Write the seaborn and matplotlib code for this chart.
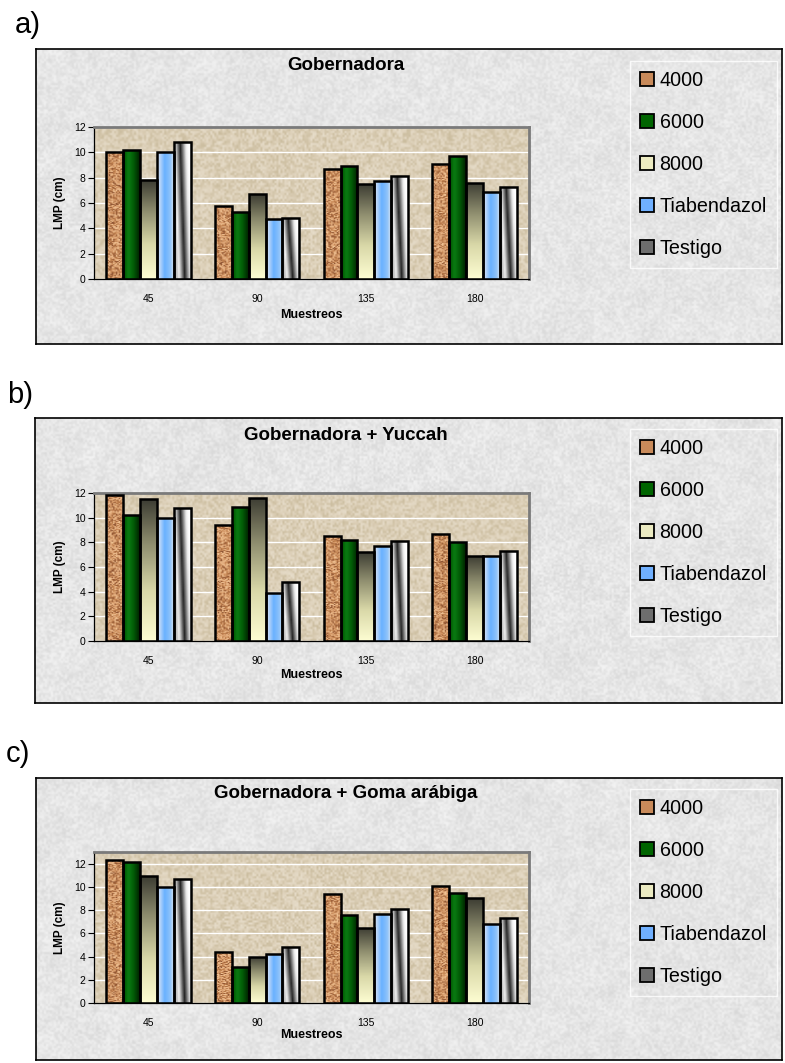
import numpy as np
import pandas as pd
import matplotlib
matplotlib.use("Agg")
import matplotlib.pyplot as plt
import seaborn as sns
from matplotlib.colors import LinearSegmentedColormap
from matplotlib.patches import Patch

# ---------------- data ----------------
muestreos = ['45', '90', '135', '180']
tratamientos = ['4000', '6000', '8000', 'Tiabendazol', 'Testigo']

a_4000 = [10.0, 5.8, 8.7, 9.1]
a_6000 = [10.2, 5.3, 8.9, 9.7]
a_8000 = [7.8, 6.7, 7.5, 7.6]
a_tiab = [10.0, 4.7, 7.7, 6.9]
a_testigo = [10.8, 4.8, 8.1, 7.3]

b_4000 = [11.8, 9.4, 8.5, 8.7]
b_6000 = [10.2, 10.9, 8.2, 8.0]
b_8000 = [11.5, 11.6, 7.2, 6.9]
b_tiab = [10.0, 3.9, 7.7, 6.9]
b_testigo = [10.8, 4.8, 8.1, 7.3]

c_4000 = [12.3, 4.4, 9.4, 10.1]
c_6000 = [12.1, 3.1, 7.6, 9.5]
c_8000 = [10.9, 4.0, 6.5, 9.0]
c_tiab = [10.0, 4.2, 7.7, 6.8]
c_testigo = [10.7, 4.8, 8.1, 7.3]

titles = ['Gobernadora', 'Gobernadora + Yuccah', 'Gobernadora + Goma arábiga']
panel_labels = ['a)', 'b)', 'c)']
y_ticks = [0, 2, 4, 6, 8, 10, 12]

# ---------------- style ----------------
sns.set_style('white')
plt.rcParams['font.family'] = ['Liberation Sans', 'DejaVu Sans']
plt.rcParams['text.color'] = 'black'
plt.rcParams['axes.labelcolor'] = 'black'
plt.rcParams['xtick.color'] = 'black'
plt.rcParams['ytick.color'] = 'black'

W, H = 785, 1063
fig = plt.figure(figsize=(W / 100, H / 100), dpi=100)
fig.patch.set_facecolor('white')


def fx(px):
    return px / W


def fy(py):
    return 1 - py / H


def rect(l, t, r, b):
    return [l / W, 1 - b / H, (r - l) / W, (b - t) / H]


rng = np.random.default_rng(7)

cm_cork = LinearSegmentedColormap.from_list('cork', ['#8a5030', '#bf7f4c', '#dfa677', '#f0c495'])
cm_green = LinearSegmentedColormap.from_list('grn', [(0, '#005200'), (0.3, '#0a7d12'), (0.65, '#025a06'), (1, '#002600')])
cm_olive = LinearSegmentedColormap.from_list('olv', [(0, '#fdfdd2'), (0.35, '#d9d8a8'), (0.7, '#8b8a6c'), (1, '#3d3d33')])
cm_blue = LinearSegmentedColormap.from_list('blu', [(0, '#dfe6f6'), (0.45, '#69b1ff'), (0.8, '#8cc2fa'), (1, '#c8dcf2')])
cm_grey = LinearSegmentedColormap.from_list('gry', [(0, '#bdbdbd'), (0.15, '#f2f2f2'), (0.5, '#222222'), (0.85, '#e8e8e8'), (1, '#ffffff')])
cm_tan = LinearSegmentedColormap.from_list('tan', ['#cbbd9f', '#dccfb7', '#e6dcc9'])


def bar_image(kind, h_units):
    ny = max(int(h_units * 12), 4)
    nx = 12
    xf = np.linspace(0, 1, nx)[None, :].repeat(ny, 0)
    yf = np.linspace(0, 1, ny)[:, None].repeat(nx, 1)
    if kind == 0:
        return cm_cork(rng.random((ny, nx)))
    if kind == 1:
        return cm_green(xf)
    if kind == 2:
        return cm_olive(yf)
    if kind == 3:
        return cm_blue(xf)
    t = np.clip(xf + 0.3 * (yf - 0.5), 0, 1)
    return cm_grey(t)


legend_colors = ['#c88a5a', '#006400', '#ecebc2', '#70b0ff', '#6e6e6e']

panels = [
    dict(series=[a_4000, a_6000, a_8000, a_tiab, a_testigo], box=(36, 49, 782, 344),
         ax=(94, 127, 529, 279), ymax=12, title_y=66, lab=(28, 25), leg_top=61, xl_y=315),
    dict(series=[b_4000, b_6000, b_8000, b_tiab, b_testigo], box=(35, 418, 782, 703),
         ax=(94, 493, 529, 641), ymax=12, title_y=435, lab=(20, 395), leg_top=429, xl_y=675),
    dict(series=[c_4000, c_6000, c_8000, c_tiab, c_testigo], box=(36, 778, 782, 1060),
         ax=(94, 852, 529, 1003), ymax=13, title_y=793, lab=(18, 754), leg_top=789, xl_y=1035),
]

for i, p in enumerate(panels):
    # background box (granite texture)
    l, t, r, b = p['box']
    bg = fig.add_axes(rect(l, t, r, b), zorder=0)
    coarse = rng.random(((b - t) // 9, (r - l) // 9))
    fine = rng.random(((b - t) // 2, (r - l) // 2))
    bg.imshow(0.90 + 0.08 * (coarse - 0.5), cmap='gray', vmin=0, vmax=1,
              aspect='auto', interpolation='bicubic', extent=[0, 1, 0, 1])
    bg.imshow(0.90 + 0.18 * (fine - 0.5), cmap='gray', vmin=0, vmax=1, alpha=0.45,
              aspect='auto', interpolation='bilinear', extent=[0, 1, 0, 1])
    bg.set_xlim(0, 1); bg.set_ylim(0, 1)
    bg.set_xticks([]); bg.set_yticks([])
    for s in bg.spines.values():
        s.set_color('black'); s.set_linewidth(1.2); s.set_visible(True)

    fig.text(fx(p['lab'][0]), fy(p['lab'][1]), panel_labels[i], fontsize=21,
             ha='center', va='center')

    # data frame
    df = pd.DataFrame({
        'Muestreos': np.repeat([muestreos], len(tratamientos), axis=0).ravel(),
        'Tratamiento': np.repeat(tratamientos, len(muestreos)),
        'LMP': np.concatenate(p['series']),
    })

    al, at, ar, ab = p['ax']
    ax = fig.add_axes(rect(al, at, ar, ab), zorder=1)
    ax.set_facecolor('#d8ccb3')
    tex = rng.random(((ab - at) // 2, (ar - al) // 2))
    ax.imshow(tex, cmap=cm_tan, aspect='auto', extent=[0, 1, 0, 1], transform=ax.transAxes,
              zorder=0.1, interpolation='bilinear')
    sns.barplot(data=df, x='Muestreos', y='LMP', hue='Tratamiento', order=muestreos,
                hue_order=tratamientos, palette=legend_colors, saturation=1,
                width=0.775, errorbar=None, edgecolor='black', linewidth=1.8,
                legend=False, ax=ax)
    for k, cont in enumerate(ax.containers):
        for bar in cont:
            x0, w, h = bar.get_x(), bar.get_width(), bar.get_height()
            img = bar_image(k, h)
            im = ax.imshow(img, extent=[x0, x0 + w, 0, h], origin='lower', aspect='auto',
                           zorder=2, interpolation='bilinear')
            im.set_clip_path(bar)
            bar.set_facecolor('none')
            bar.set_zorder(3)

    ax.set_xlim(-0.5, 3.5)
    ax.set_ylim(0, p['ymax'])
    ax.set_yticks(y_ticks)
    ax.set_yticklabels([str(v) for v in y_ticks], fontsize=7.5)
    ax.set_axisbelow(True)
    ax.yaxis.grid(True, color='white', linewidth=1.0)
    ax.xaxis.grid(False)
    ax.set_xticks(range(4))
    ax.set_xticklabels(muestreos, fontsize=7.5)
    ax.set_xticks([-0.5, 0.5, 1.5, 2.5, 3.5], minor=True)
    ax.tick_params(axis='x', which='major', length=0, pad=11)
    ax.tick_params(axis='x', which='minor', length=4, width=0.8, color='black', direction='out')
    ax.tick_params(axis='y', length=4, width=0.8, color='black', direction='out', pad=2, left=True)
    ax.spines['left'].set_color('black'); ax.spines['left'].set_linewidth(0.9)
    ax.spines['bottom'].set_color('black'); ax.spines['bottom'].set_linewidth(0.9)
    for s in ('top', 'right'):
        ax.spines[s].set_visible(True)
        ax.spines[s].set_color('#7a7a7a'); ax.spines[s].set_linewidth(2)

    ax.set_ylabel('LMP (cm)', fontsize=8.5, fontweight='bold')
    ax.yaxis.set_label_coords(fx(66), 0.5 * (fy(at) + fy(ab)), transform=fig.transFigure)
    ax.set_xlabel('Muestreos', fontsize=9, fontweight='bold', va='center')
    ax.xaxis.set_label_coords(0.5 * (fx(al) + fx(ar)), fy(p['xl_y']), transform=fig.transFigure)

    fig.text(fx(346), fy(p['title_y']), titles[i], fontsize=13.5, fontweight='bold',
             ha='center', va='center', zorder=5)

    handles = [Patch(facecolor=c, edgecolor='black', linewidth=1.3) for c in legend_colors]
    leg = fig.legend(handles, tratamientos, loc='upper left',
                     bbox_to_anchor=(fx(630), fy(p['leg_top'])), bbox_transform=fig.transFigure,
                     fontsize=14.2, frameon=True, fancybox=False, handlelength=0.7,
                     handleheight=0.7, handletextpad=0.3, labelspacing=1.17,
                     borderpad=0.5, borderaxespad=0)
    leg.get_frame().set_facecolor('none')
    leg.get_frame().set_edgecolor('white')
    leg.get_frame().set_linewidth(1.0)
    leg.set_zorder(5)

fig.savefig('out.png', dpi=100)
